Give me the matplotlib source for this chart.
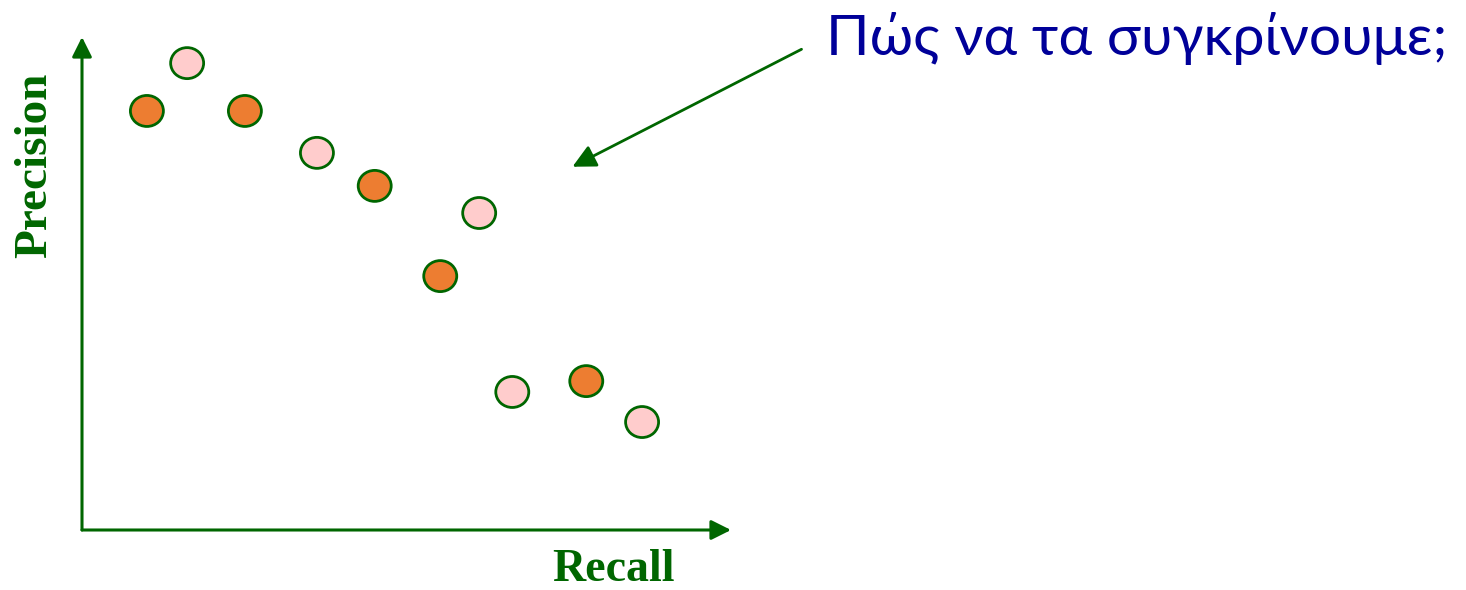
import matplotlib
matplotlib.use("Agg")
import matplotlib.pyplot as plt
from matplotlib.patches import Ellipse, FancyArrowPatch

# recall / precision on a 0-100 scale
recall_a = [10.0, 25.1, 45.1, 55.2, 77.7]
precision_a = [85.0, 85.0, 69.8, 51.5, 30.2]
recall_b = [16.2, 36.2, 61.2, 66.3, 86.3]
precision_b = [94.7, 76.5, 64.3, 28.0, 21.9]

question = "Πώς να τα συγκρίνουμε;"
x_label = "Recall"
y_label = "Precision"

green = "#006600"
orange = "#ED7D31"
pink = "#FFCCCC"
blue = "#000099"

W, H = 1466, 590
fig = plt.figure(figsize=(W / 100, H / 100), dpi=100)

# axes box: origin at (82, 530) px, x arrow tip at 731, y arrow tip at 37
x0, y0, x1, y1 = 82, 530, 731, 37
ax = fig.add_axes([x0 / W, (H - y0) / H, (x1 - x0) / W, (y0 - y1) / H])
ax.set_xlim(0, 100)
ax.set_ylim(0, 100)
for s in ax.spines.values():
    s.set_visible(False)
ax.set_xticks([])
ax.set_yticks([])
ax.patch.set_alpha(0)

# marker size in data units (~33 x 31 px)
ew = 33 / ((x1 - x0) / 100)
eh = 31 / ((y0 - y1) / 100)
for xs, ys, fc in [(recall_a, precision_a, orange), (recall_b, precision_b, pink)]:
    for x, y in zip(xs, ys):
        ax.add_patch(Ellipse((x, y), ew, eh, facecolor=fc, edgecolor=green,
                             linewidth=2, zorder=3))

arrow = dict(arrowstyle="-|>,head_length=0.6,head_width=0.3", color=green,
             linewidth=2.2, shrinkA=0, shrinkB=0, mutation_scale=20)
ax.annotate("", xy=(0, 1), xytext=(0, 0), xycoords="axes fraction",
            arrowprops=arrow, annotation_clip=False)
ax.annotate("", xy=(1, 0), xytext=(0, 0), xycoords="axes fraction",
            arrowprops=arrow, annotation_clip=False)

fig.text(613 / W, 1 - 581 / H, x_label, ha="center", va="baseline",
         fontsize=33, fontweight="bold", family="Liberation Serif", color=green)
fig.text(35 / W, 1 - 165 / H, y_label, ha="center", va="center", rotation=90,
         fontsize=34, fontweight="bold", family="Liberation Serif", color=green)

fig.text(826 / W, 1 - 55 / H, question, ha="left", va="baseline",
         fontsize=41, family=["Lato", "Noto Sans", "DejaVu Sans"], color=blue)

# pointer arrow from the question towards the chart
fig.add_artist(FancyArrowPatch(
    (804 / W, 1 - 48 / H), (570 / W, 1 - 168 / H), transform=fig.transFigure,
    arrowstyle="-|>,head_length=0.7,head_width=0.35", color=green,
    linewidth=2, mutation_scale=20))

fig.savefig("out.png", dpi=100)
